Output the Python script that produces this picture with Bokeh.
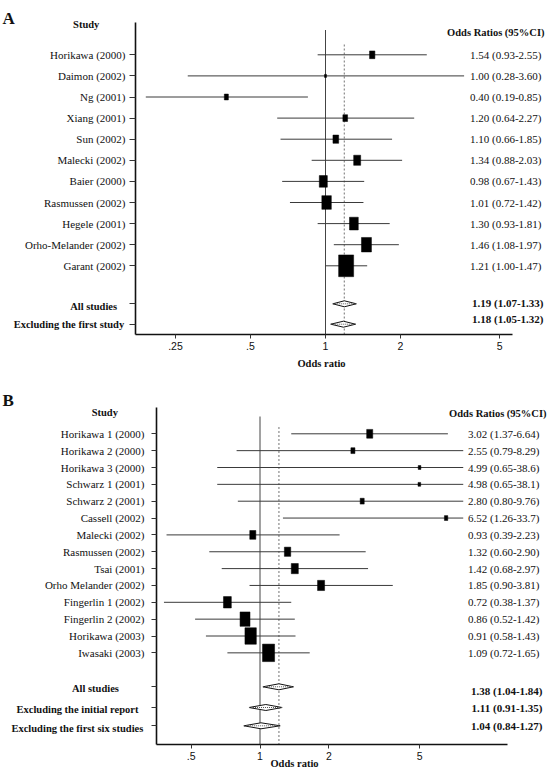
import numpy as np
from bokeh.plotting import figure
from bokeh.models import Range1d, FixedTicker, CustomJSTickFormatter, Label, ColumnDataSource
from bokeh.layouts import column
from bokeh.embed import file_html
from bokeh.resources import INLINE

# ---------------- Panel A data ----------------
studies_a = ["Horikawa (2000)", "Daimon (2002)", "Ng (2001)", "Xiang (2001)", "Sun (2002)",
             "Malecki (2002)", "Baier (2000)", "Rasmussen (2002)", "Hegele (2001)",
             "Orho-Melander (2002)", "Garant (2002)"]
or_a = [1.54, 1.00, 0.40, 1.20, 1.10, 1.34, 0.98, 1.01, 1.30, 1.46, 1.21]
lo_a = [0.93, 0.28, 0.19, 0.64, 0.66, 0.88, 0.67, 0.72, 0.93, 1.08, 1.00]
hi_a = [2.55, 3.60, 0.85, 2.27, 1.85, 2.03, 1.43, 1.42, 1.81, 1.97, 1.47]
weight_a = [4.0, 0.6, 2.3, 3.1, 4.6, 6.9, 9.1, 12.7, 10.9, 14.1, 31.8]
summary_a = ["All studies", "Excluding the first study"]
sum_or_a = [1.19, 1.18]
sum_lo_a = [1.07, 1.05]
sum_hi_a = [1.33, 1.32]
sum_text_a = ["1.19 (1.07-1.33)", "1.18 (1.05-1.32)"]
ticks_a = [0.25, 0.5, 1, 2, 5]
tick_labels_a = [".25", ".5", "1", "2", "5"]

# ---------------- Panel B data ----------------
studies_b = ["Horikawa 1 (2000)", "Horikawa 2 (2000)", "Horikawa 3 (2000)", "Schwarz 1 (2001)",
             "Schwarz 2 (2001)", "Cassell (2002)", "Malecki (2002)", "Rasmussen (2002)",
             "Tsai (2001)", "Orho Melander (2002)", "Fingerlin 1 (2002)", "Fingerlin 2 (2002)",
             "Horikawa (2003)", "Iwasaki (2003)"]
or_b = [3.02, 2.55, 4.99, 4.98, 2.80, 6.52, 0.93, 1.32, 1.42, 1.85, 0.72, 0.86, 0.91, 1.09]
lo_b = [1.37, 0.79, 0.65, 0.65, 0.80, 1.26, 0.39, 0.60, 0.68, 0.90, 0.38, 0.52, 0.58, 0.72]
hi_b = [6.64, 8.29, 38.6, 38.1, 9.76, 33.7, 2.23, 2.90, 2.97, 3.81, 1.37, 1.42, 1.43, 1.65]
weight_b = [5.2, 2.3, 1.0, 1.0, 2.3, 1.6, 5.2, 5.7, 7.0, 7.0, 8.7, 14.0, 18.3, 20.6]
summary_b = ["All studies", "Excluding the initial report", "Excluding the first six studies"]
# pooled diamonds as drawn in the figure
sum_or_b = [1.21, 1.06, 1.01]
sum_lo_b = [1.03, 0.895, 0.85]
sum_hi_b = [1.40, 1.25, 1.225]
sum_text_b = ["1.38 (1.04-1.84)", "1.11 (0.91-1.35)", "1.04 (0.84-1.27)"]
ticks_b = [0.5, 1, 2, 5]
tick_labels_b = [".5", "1", "2", "5"]
ci_display_max_b = 7.75

null_or = 1.0
header_study = "Study"
header_or = "Odds Ratios (95%CI)"
x_title = "Odds ratio"

SERIF = "Liberation Serif"
SANS = "Liberation Sans"
FS = "11px"
FSB = "10.5px"
W = 551


def fmt(v):
    return f"{v:.1f}" if v >= 10 else f"{v:.2f}"


def tick_formatter(pos, labels):
    return CustomJSTickFormatter(args=dict(pos=list(pos), labels=list(labels)), code="""
        let best = -1, bd = 1e9;
        for (let i = 0; i < pos.length; i++) {
            const d = Math.abs(pos[i] - tick);
            if (d < bd) { bd = d; best = i; }
        }
        return (best >= 0 && bd < 1e-6 * Math.max(1, Math.abs(tick))) ? labels[best] : "";
    """)


def forest(L, studies, est, lo, hi, weight, ci_max, sum_names, s_est, s_lo, s_hi, s_text,
           ticks, tick_labels, letter):
    ry = lambda img_y: 1 + (img_y - L["row1"]) / L["step"]
    rx = lambda img_x: 2 ** ((img_x - L["x1"]) / L["unit"])
    n = len(studies)
    rows = list(range(1, n + 1))
    srows = [ry(v) for v in L["srows_img"]]
    p = figure(width=W, height=L["h"], x_axis_type="log",
               x_range=Range1d(rx(0), rx(W)),
               y_range=Range1d(ry(L["top"] + L["h"]), ry(L["top"])),
               output_backend="svg", toolbar_location=None, title=None,
               min_border=0, min_border_left=0, min_border_right=0,
               min_border_top=0, min_border_bottom=0)
    p.outline_line_color = None
    p.grid.visible = False
    p.background_fill_color = "white"
    p.border_fill_color = "white"

    ax_l, ax_r, ax_t, ax_b = L["ax_left"], L["ax_right"], L["ax_top"], L["ax_bottom"]

    # axes
    ya = p.yaxis[0]
    ya.fixed_location = rx(ax_l)
    ya.bounds = (ry(ax_t), ry(ax_b))
    ya.ticker = FixedTicker(ticks=rows + srows, minor_ticks=[])
    ya.formatter = tick_formatter(rows + srows, studies + [""] * len(srows))
    ya.axis_line_width = 1.6
    ya.axis_line_color = "#111111"
    ya.major_tick_out = L["tick_out"]
    ya.major_tick_in = 0
    ya.major_tick_line_color = "#333333"
    ya.minor_tick_line_color = None
    ya.major_label_text_font = SERIF
    ya.major_label_text_font_size = FS
    ya.major_label_text_color = "#111111"
    ya.major_label_standoff = L["standoff"]

    xa = p.xaxis[0]
    xa.fixed_location = ry(ax_b)
    xa.bounds = (rx(ax_l), rx(ax_r))
    xa.ticker = FixedTicker(ticks=ticks, minor_ticks=[])
    xa.formatter = tick_formatter(ticks, tick_labels)
    xa.axis_line_width = 1.6
    xa.axis_line_color = "#111111"
    xa.major_tick_out = 4
    xa.major_tick_in = 0
    xa.major_tick_line_color = "#333333"
    xa.minor_tick_line_color = None
    xa.major_label_text_font = SANS
    xa.major_label_text_font_size = "10.5px"
    xa.major_label_text_color = "#111111"
    xa.major_label_standoff = 3

    # reference lines
    p.segment(x0=[null_or], y0=[ry(L["solid_top"])], x1=[null_or], y1=[ry(ax_b)],
              line_color="#444444", line_width=1)
    p.segment(x0=[s_est[0]], y0=[ry(L["dash_top"])], x1=[s_est[0]], y1=[ry(ax_b)],
              line_color="#8a8a8a", line_width=1.2, line_dash="2 2")

    # study CIs and boxes
    hi_disp = np.minimum(np.array(hi), ci_max)
    wts = np.sqrt(np.array(weight))
    src = ColumnDataSource(dict(est=est, lo=lo, hi=hi_disp, y=rows,
                                w=list(2.66 * wts), h=list(2.66 * 1.45 * wts)))
    p.segment(x0="lo", y0="y", x1="hi", y1="y", source=src, line_color="#3a3a3a", line_width=1)
    p.rect(x="est", y="y", width="w", height="h", width_units="screen", height_units="screen",
           source=src, fill_color="black", line_color="black", line_width=0.5)

    # summary diamonds
    hh = 3.0 / L["step"]
    xs = [[l, e, h, e] for l, e, h in zip(s_lo, s_est, s_hi)]
    ys = [[r, r - hh, r, r + hh] for r in srows]
    p.patches(xs=xs, ys=ys, fill_color="white", line_color="#111111", line_width=1)
    p.segment(x0=s_lo, y0=srows, x1=s_hi, y1=srows, line_color="#555555",
              line_width=1, line_dash="1 1")

    def lab(text, img_x, row, align="right", bold=False, size=None, font=SERIF, baseline="middle"):
        if size is None:
            size = FSB if bold else FS
        p.add_layout(Label(x=img_x, x_units="screen", y=row, y_units="data", text=text,
                           text_align=align, text_baseline=baseline, text_font=font,
                           text_font_size=size, text_font_style="bold" if bold else "normal",
                           text_color="#111111"))

    # right column values
    for r, e, l, h in zip(rows, est, lo, hi):
        lab(f"{fmt(e)} ({fmt(l)}-{fmt(h)})", L["val_right"], r)
    for t, yy in zip(s_text, L["sval_y"]):
        lab(t, L["sval_right"], ry(yy), bold=True, size=FS)
    # summary names
    for t, xr, yy in zip(sum_names, L["sname_right"], L["sname_y"]):
        lab(t, xr, ry(yy), bold=True)
    # headers
    lab(header_study, L["study_x"], ry(L["study_y"]), align="center", bold=True)
    lab(header_or, L["hdr_right"], ry(L["hdr_y"]), bold=True)
    lab(x_title, L["xt_x"], ry(L["xt_y"]), align="center", bold=True)
    lab(letter, 2, ry(L["letter_y"]), align="left", bold=True, size="17px", baseline="alphabetic")
    return p


LA = dict(h=380, top=0, x1=325, unit=75, row1=54.3, step=21.1,
          ax_left=135, ax_right=512, ax_top=22, ax_bottom=334,
          srows_img=[303.3, 323.7], solid_top=29.5, dash_top=44, tick_out=6, standoff=4,
          val_right=541, sval_right=543, sval_y=[302.7, 318.3],
          sname_right=[116.6, 123.7], sname_y=[305.7, 324.3],
          study_x=85.7, study_y=24, hdr_right=544, hdr_y=31.7,
          xt_x=321, xt_y=362.7, letter_y=17.5)

LB = dict(h=391, top=380, x1=259.5, unit=68.8, row1=433.3, step=16.85,
          ax_left=156, ax_right=507, ax_top=407, ax_bottom=744.3,
          srows_img=[686.3, 707, 725.3], solid_top=416, dash_top=426.5, tick_out=5, standoff=7,
          val_right=539, sval_right=542, sval_y=[690, 707.7, 725.7],
          sname_right=[118.4, 138, 142.8], sname_y=[687.7, 709, 727.7],
          study_x=104.3, study_y=411.7, hdr_right=546, hdr_y=412.7,
          xt_x=294, xt_y=762.5, letter_y=399.5)

pA = forest(LA, studies_a, or_a, lo_a, hi_a, weight_a, 1e9, summary_a, sum_or_a, sum_lo_a,
            sum_hi_a, sum_text_a, ticks_a, tick_labels_a, "A")
pB = forest(LB, studies_b, or_b, lo_b, hi_b, weight_b, ci_display_max_b, summary_b, sum_or_b,
            sum_lo_b, sum_hi_b, sum_text_b, ticks_b, tick_labels_b, "B")

layout = column(pA, pB)
open("out.html", "w").write(file_html(layout, INLINE))
